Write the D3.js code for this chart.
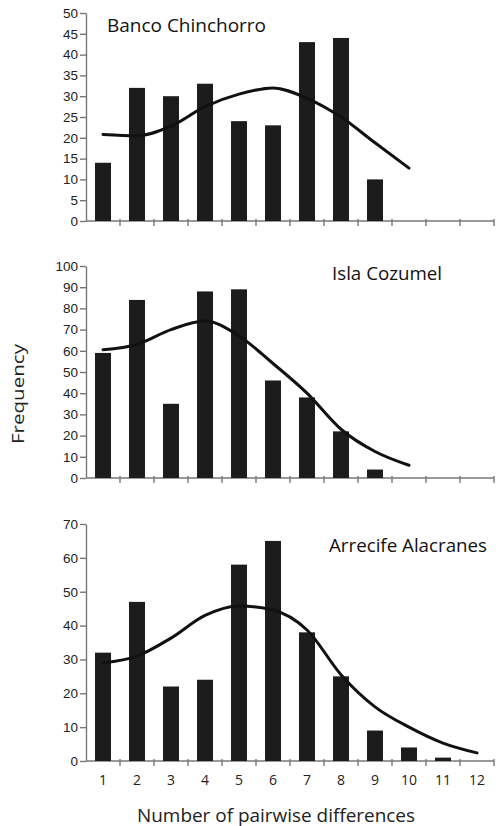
<!DOCTYPE html>
<html>
<head>
<meta charset="utf-8">
<script src="https://cdn.jsdelivr.net/npm/d3@7"></script>
<style>
  body { margin: 0; background: #fff; }
  svg { display: block; font-family: "Open Sans", sans-serif; }
  .axis path, .axis line { stroke: #777; stroke-width: 1.4; }
  .axis text { fill: #222; font-size: 13.5px; }
</style>
</head>
<body>
<div id="chart"></div>
<script>
const diffs = [1, 2, 3, 4, 5, 6, 7, 8, 9, 10, 11, 12];

// observed frequencies (bars) and expected curve, per locality
const chinchorroObs = [14, 32, 30, 33, 24, 23, 43, 44, 10];
const chinchorroExp = [20.8, 20.5, 22.8, 27.5, 30.5, 32, 29.5, 25, 18.8, 12.7];
const cozumelObs = [59, 84, 35, 88, 89, 46, 38, 22, 4];
const cozumelExp = [60.5, 63, 70, 74, 67, 54, 40, 23, 12.5, 6];
const alacranesObs = [32, 47, 22, 24, 58, 65, 38, 25, 9, 4, 1];
const alacranesExp = [29, 31, 36.3, 43, 45.8, 44.6, 38.7, 25.5, 16, 10, 5.3, 2.4];

const panels = [
  { name: 'Banco Chinchorro', obs: chinchorroObs, exp: chinchorroExp, max: 50, step: 5, top: 13, bottom: 221, tx: 107, ty: 32, tw: 159, labels: false },
  { name: 'Isla Cozumel', obs: cozumelObs, exp: cozumelExp, max: 100, step: 10, top: 266, bottom: 478, tx: 332, ty: 280, tw: 110, labels: false },
  { name: 'Arrecife Alacranes', obs: alacranesObs, exp: alacranesExp, max: 70, step: 10, top: 524, bottom: 761, tx: 329, ty: 552, tw: 158, labels: true }
];

const width = 496, height = 826;
const left = 86, right = 494;

const svg = d3.select('#chart').append('svg')
  .attr('width', width).attr('height', height);

const x = d3.scaleBand().domain(diffs).range([left, right])
  .paddingInner(0.53).paddingOuter(0.265);

panels.forEach(p => {
  const y = d3.scaleLinear().domain([0, p.max]).range([p.bottom, p.top]);
  const g = svg.append('g');

  // y axis
  g.append('g').attr('class', 'axis')
    .attr('transform', `translate(${left},0)`)
    .call(d3.axisLeft(y).tickValues(d3.range(0, p.max + 1, p.step)).tickSize(6).tickPadding(2).tickSizeOuter(0));

  // x axis line + ticks at bin edges
  const xa = g.append('g').attr('class', 'axis').attr('transform', `translate(0,${p.bottom})`);
  xa.append('line').attr('x1', left).attr('x2', right);
  xa.selectAll('.edge').data(diffs).join('line')
    .attr('class', 'edge')
    .attr('x1', d => x(d) - x.step() * x.paddingInner() / 2 + x.step())
    .attr('x2', d => x(d) - x.step() * x.paddingInner() / 2 + x.step())
    .attr('y1', -2).attr('y2', 5);

  if (p.labels) {
    xa.selectAll('.lbl').data(diffs).join('text')
      .attr('class', 'lbl')
      .attr('x', d => x(d) + x.bandwidth() / 2)
      .attr('y', 24)
      .attr('text-anchor', 'middle')
      .style('font-size', '14px').style('fill', '#222')
      .text(d => d);
  }

  // bars
  g.selectAll('rect').data(p.obs).join('rect')
    .attr('x', (d, i) => x(diffs[i]))
    .attr('width', x.bandwidth())
    .attr('y', d => y(d))
    .attr('height', d => y(0) - y(d))
    .attr('fill', '#1c1c1c');

  // expected curve
  const line = d3.line()
    .x((d, i) => x(diffs[i]) + x.bandwidth() / 2)
    .y(d => y(d))
    .curve(d3.curveMonotoneX);
  g.append('path').datum(p.exp)
    .attr('d', line)
    .attr('fill', 'none')
    .attr('stroke', '#111')
    .attr('stroke-width', 3)
    .attr('stroke-linecap', 'round');

  g.append('text')
    .attr('x', p.tx).attr('y', p.ty)
    .attr('textLength', p.tw).attr('lengthAdjust', 'spacingAndGlyphs')
    .style('font-size', '18.5px').style('fill', '#111')
    .text(p.name);
});

svg.append('text')
  .attr('transform', 'translate(24,394) rotate(-90)')
  .attr('text-anchor', 'middle')
  .attr('textLength', 100).attr('lengthAdjust', 'spacingAndGlyphs')
  .style('font-size', '17px').style('fill', '#222')
  .text('Frequency');

svg.append('text')
  .attr('x', 276).attr('y', 822)
  .attr('text-anchor', 'middle')
  .attr('textLength', 278).attr('lengthAdjust', 'spacingAndGlyphs')
  .style('font-size', '18px').style('fill', '#222')
  .text('Number of pairwise differences');
</script>
</body>
</html>
